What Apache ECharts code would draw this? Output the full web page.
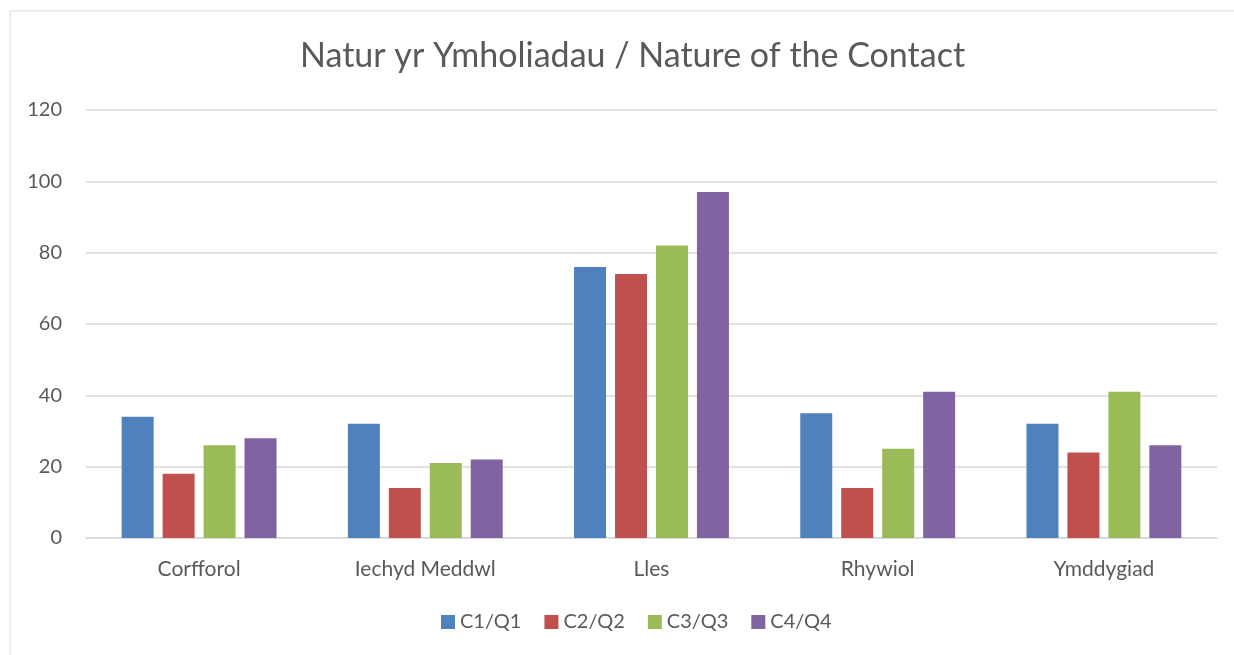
<!DOCTYPE html>
<html>
<head>
<meta charset="utf-8">
<script src="https://cdn.jsdelivr.net/npm/echarts@6/dist/echarts.min.js"></script>
<style>
  html, body { margin: 0; padding: 0; background: #fff; }
  #chart { width: 1234px; height: 655px; }
</style>
</head>
<body>
<div id="chart"></div>
<script>
// data
var categories = ['Corfforol', 'Iechyd Meddwl', 'Lles', 'Rhywiol', 'Ymddygiad'];
var seriesNames = ['C1/Q1', 'C2/Q2', 'C3/Q3', 'C4/Q4'];
var q1 = [34, 32, 76, 35, 32];
var q2 = [18, 14, 74, 14, 24];
var q3 = [26, 21, 82, 25, 41];
var q4 = [28, 22, 97, 41, 26];
var colors = ['#4F81BD', '#C0504D', '#9BBB59', '#8064A2'];

var font = 'Lato, "Open Sans", sans-serif';
var myChart = echarts.init(document.getElementById('chart'));

var allData = [q1, q2, q3, q4];
var series = [];
for (var i = 0; i < allData.length; i++) {
  series.push({
    name: seriesNames[i],
    type: 'bar',
    data: allData[i],
    barWidth: 32,
    barGap: '28%',
    itemStyle: { color: colors[i] }
  });
}

var option = {
  animation: false,
  textStyle: { fontFamily: font },
  graphic: [{
    type: 'rect',
    shape: { x: 10, y: 11, width: 1240, height: 660 },
    style: { fill: 'none', stroke: '#d9d9d9', lineWidth: 1 }
  }],
  title: {
    text: 'Natur yr Ymholiadau / Nature of the Contact',
    left: 295,
    top: 34,
    textStyle: { fontFamily: font, fontSize: 34, fontWeight: 'normal', color: '#595959' }
  },
  legend: {
    bottom: 18,
    left: 436,
    itemWidth: 14,
    itemHeight: 14,
    itemGap: 23,
    icon: 'rect',
    textStyle: { fontFamily: font, fontSize: 20, color: '#595959' },
    data: seriesNames
  },
  grid: { left: 86, right: 17, top: 110, bottom: 117, containLabel: false },
  xAxis: {
    type: 'category',
    data: categories,
    axisLine: { lineStyle: { color: '#d9d9d9', width: 1.5 } },
    axisTick: { show: false },
    axisLabel: { fontFamily: font, fontSize: 21, color: '#595959', margin: 21 }
  },
  yAxis: {
    type: 'value',
    min: 0,
    max: 120,
    interval: 20,
    axisLine: { show: false },
    axisTick: { show: false },
    splitLine: { lineStyle: { color: '#d9d9d9', width: 1.5 } },
    axisLabel: { fontFamily: font, fontSize: 20, color: '#595959', margin: 24 }
  },
  series: series
};
myChart.setOption(option);
</script>
</body>
</html>
